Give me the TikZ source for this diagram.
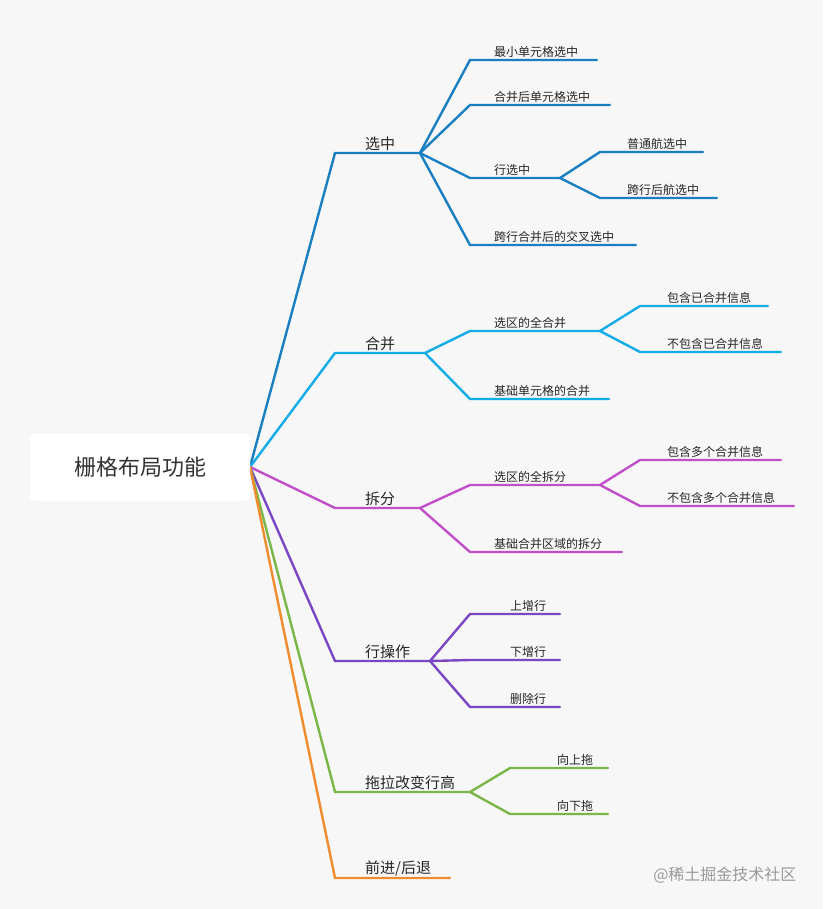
\documentclass[tikz,border=0pt]{standalone}
\usepackage{fontspec}
\newfontfamily\cjk{Noto Sans CJK SC}
\definecolor{bg}{HTML}{F7F7F7}
\definecolor{cA}{HTML}{1A7FC0}
\definecolor{cB}{HTML}{12ADE6}
\definecolor{cC}{HTML}{C04FC9}
\definecolor{cD}{HTML}{7B46C4}
\definecolor{cE}{HTML}{7AB648}
\definecolor{cF}{HTML}{F08C2E}
\tikzset{br/.style={line width=2.4pt,line cap=round},
lab/.style={font=\cjk\fontsize{12}{14}\selectfont,text=black!85,anchor=south west,inner sep=2pt},
lab1/.style={font=\cjk\fontsize{15}{17}\selectfont,text=black!85,anchor=south west,inner sep=2pt}}
% #1 color, #2 parent, #3 name, #4 x, #5 y, #6 xend, #7 text, #8 style, #9 text offset
\newcommand\lf[9]{%
\coordinate (#3-s) at (#4pt,-#5pt);
\coordinate (#3-e) at (#6pt,-#5pt);
\draw[br,#1] (#2-e) .. controls ($(#2-e)!0.5!(#3-s)$ |- #2-e) and ($(#2-e)!0.5!(#3-s)$ |- #3-s) .. (#3-s) -- (#3-e);
\node[#8] (#3) at ([xshift=#9pt]#3-s) {#7};}
\usetikzlibrary{calc}
\begin{document}
\begin{tikzpicture}[x=1pt,y=1pt]
\fill[bg] (0,0) rectangle (823,-909);
\useasboundingbox (0,0) rectangle (823,-909);
\coordinate (R-e) at (250,-467);
\lf{cA}{R}{a}{335}{153}{420}{选中}{lab1}{28}
\lf{cA}{a}{a1}{470}{60}{597}{最小单元格选中}{lab}{22}
\lf{cA}{a}{a2}{470}{105}{610}{合并后单元格选中}{lab}{22}
\lf{cA}{a}{a3}{470}{178}{560}{行选中}{lab}{22}
\lf{cA}{a3}{a31}{600}{152}{703}{普通航选中}{lab}{25}
\lf{cA}{a3}{a32}{600}{198}{717}{跨行后航选中}{lab}{25}
\lf{cA}{a}{a4}{470}{245}{636}{跨行合并后的交叉选中}{lab}{22}
\lf{cB}{R}{b}{335}{353}{425}{合并}{lab1}{28}
\lf{cB}{b}{b1}{470}{331}{600}{选区的全合并}{lab}{22}
\lf{cB}{b1}{b11}{640}{306}{768}{包含已合并信息}{lab}{25}
\lf{cB}{b1}{b12}{640}{352}{781}{不包含已合并信息}{lab}{25}
\lf{cB}{b}{b2}{470}{399}{609}{基础单元格的合并}{lab}{22}
\lf{cC}{R}{c}{335}{508}{420}{拆分}{lab1}{28}
\lf{cC}{c}{c1}{470}{485}{600}{选区的全拆分}{lab}{22}
\lf{cC}{c1}{c11}{640}{460}{781}{包含多个合并信息}{lab}{25}
\lf{cC}{c1}{c12}{640}{506}{794}{不包含多个合并信息}{lab}{25}
\lf{cC}{c}{c2}{470}{552}{622}{基础合并区域的拆分}{lab}{22}
\lf{cD}{R}{d}{335}{661}{430}{行操作}{lab1}{28}
\lf{cD}{d}{d1}{470}{614}{560}{上增行}{lab}{38}
\lf{cD}{d}{d2}{470}{660}{560}{下增行}{lab}{38}
\lf{cD}{d}{d3}{470}{707}{560}{删除行}{lab}{38}
\lf{cE}{R}{e}{335}{792}{470}{拖拉改变行高}{lab1}{28}
\lf{cE}{e}{e1}{510}{768}{608}{向上拖}{lab}{45}
\lf{cE}{e}{e2}{510}{814}{608}{向下拖}{lab}{45}
\lf{cF}{R}{f}{335}{878}{450}{前进/后退}{lab1}{28}
\node[fill=white,rounded corners=3pt,minimum width=220pt,minimum height=67pt,font=\cjk\fontsize{22}{24}\selectfont,text=black!80] (root) at (140,-467) {栅格布局功能};
\node[font=\cjk\fontsize{16}{18}\selectfont,text=black!40,anchor=east] (wm) at (800,-875) {@稀土掘金技术社区};
\end{tikzpicture}
\end{document}
